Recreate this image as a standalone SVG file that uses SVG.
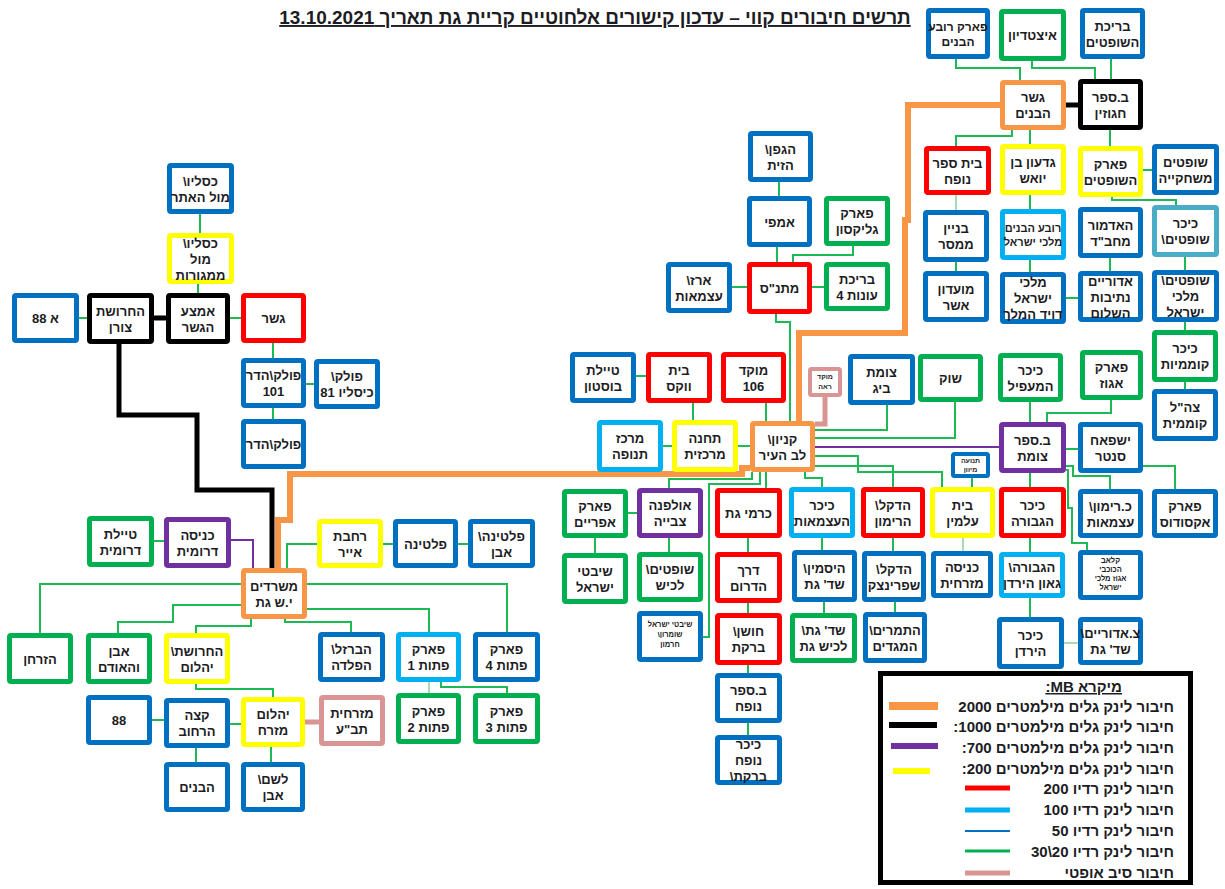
<svg xmlns="http://www.w3.org/2000/svg" width="1225" height="889" viewBox="0 0 1225 889">
<style>
text{font-family:"Liberation Sans","DejaVu Sans",sans-serif;font-weight:bold;font-size:13px;fill:#1c1c24;direction:rtl;text-anchor:middle}
.node rect{fill:#fff;stroke-width:5;rx:1.5px}
.thin rect{stroke-width:4}
.b rect{stroke:#0070c0}.g rect{stroke:#00b050}.r rect{stroke:#ff0000}.y rect{stroke:#ffff00}
.o rect{stroke:#f79646}.k rect{stroke:#000}.p rect{stroke:#7030a0}.lb rect{stroke:#00b0f0}
.t rect{stroke:#4bacc6}.pk rect{stroke:#d99594}
.s text{font-size:11px}.s12 text{font-size:12px}.xs text{font-size:7px}.x8 text{font-size:7.5px}
.conn polyline{fill:none;stroke-linejoin:miter}
.cg{stroke:#1db954;stroke-width:2}
.cgp{stroke:#a6dcb4;stroke-width:2}
.co{stroke:#f79646;stroke-width:6}
.ck{stroke:#000;stroke-width:5}
.cp{stroke:#7030a0;stroke-width:2}
.cpk{stroke:#d99594;stroke-width:5}
.title{font-size:19px;text-decoration:underline}
.lg{font-size:15px;text-anchor:start}
</style>

<text class="title" x="595" y="24">תרשים חיבורים קווי – עדכון קישורים אלחוטיים קריית גת תאריך 13.10.2021</text>

<g id="connectors" class="conn">
<polyline class="cg" points="200,214 200,233"/>
<polyline class="cg" points="198,284 198,293"/>
<polyline class="cg" points="79,318 87,318"/>
<polyline class="cg" points="230,318 241,318"/>
<polyline class="cg" points="273,343 273,358"/>
<polyline class="cg" points="306,384 314,384"/>
<polyline class="cg" points="273,408 273,419"/>
<polyline class="cg" points="154,541 164,541"/>
<polyline class="cg" points="317,544 287,544 287,568"/>
<polyline class="cg" points="383,544 393,544"/>
<polyline class="cg" points="458,544 468,544"/>
<polyline class="cg" points="307,584 507,584 507,632"/>
<polyline class="cg" points="307,609 429,609 429,632"/>
<polyline class="cg" points="285,619 285,622 351,622 351,632"/>
<polyline class="cg" points="251,619 251,626 196,626 196,633"/>
<polyline class="cg" points="241,584 40,584 40,633"/>
<polyline class="cg" points="241,605 173,605 173,622 118,622 118,633"/>
<polyline class="cg" points="196,684 196,689 273,689 273,697"/>
<polyline class="cg" points="241,724 230,724"/>
<polyline class="cg" points="164,720 152,720"/>
<polyline class="cg" points="196,748 196,762"/>
<polyline class="cg" points="271,747 271,762"/>
<polyline class="cgp" points="429,682 429,693"/>
<polyline class="cg" points="441,682 441,687 507,687 507,693"/>
<polyline class="cg" points="779,182 779,196"/>
<polyline class="cg" points="777,247 777,262"/>
<polyline class="cg" points="853,246 853,255 793,255 793,262"/>
<polyline class="cg" points="732,287 747,287"/>
<polyline class="cg" points="812,287 824,287"/>
<polyline class="cg" points="776,314 776,322 790,322 790,421"/>
<polyline class="cg" points="636,376 646,376"/>
<polyline class="cg" points="693,403 693,420"/>
<polyline class="cg" points="766,403 766,421"/>
<polyline class="cg" points="663,446 672,446"/>
<polyline class="cg" points="738,446 750,446"/>
<polyline class="cg" points="887,405 887,430 815,430"/>
<polyline class="cg" points="815,438 955,438 955,402"/>
<polyline class="cg" points="815,456 858,456 858,472 942,472 942,487"/>
<polyline class="cg" points="815,466 893,466 893,487"/>
<polyline class="cg" points="805,472 805,478 822,478 822,487"/>
<polyline class="cg" points="766,472 766,488"/>
<polyline class="cg" points="760,472 760,484 709,484 709,637 703,637"/>
<polyline class="cg" points="752,472 752,479 669,479 669,488"/>
<polyline class="cg" points="637,513 628,513"/>
<polyline class="cg" points="669,538 669,552"/>
<polyline class="cg" points="595,538 595,553"/>
<polyline class="cg" points="748,538 748,552"/>
<polyline class="cg" points="748,603 748,613"/>
<polyline class="cg" points="748,665 748,673"/>
<polyline class="cg" points="748,723 748,735"/>
<polyline class="cg" points="822,538 822,550"/>
<polyline class="cg" points="824,602 824,613"/>
<polyline class="cg" points="893,538 893,551"/>
<polyline class="cg" points="895,602 895,612"/>
<polyline class="cg" points="956,59 956,68 1020,68 1020,80"/>
<polyline class="cg" points="1032,61 1032,68 1095,68 1095,79"/>
<polyline class="cg" points="1111,59 1111,79"/>
<polyline class="cg" points="1012,130 1012,136 956,136 956,146"/>
<polyline class="cg" points="1030,130 1030,144"/>
<polyline class="cg" points="1110,130 1110,146"/>
<polyline class="cg" points="1143,170 1152,170"/>
<polyline class="cg" points="1112,197 1112,200 1176,200 1176,205"/>
<polyline class="cgp" points="956,195 956,210"/>
<polyline class="cg" points="956,262 956,271"/>
<polyline class="cg" points="1030,195 1030,209"/>
<polyline class="cg" points="1030,260 1030,272"/>
<polyline class="cg" points="1066,298 1078,298"/>
<polyline class="cg" points="1110,258 1110,271"/>
<polyline class="cg" points="1185,257 1185,270"/>
<polyline class="cg" points="1185,322 1185,330"/>
<polyline class="cg" points="1185,382 1185,389"/>
<polyline class="cg" points="1030,402 1030,422"/>
<polyline class="cg" points="1111,400 1111,413 1047,413 1047,422"/>
<polyline class="cg" points="1066,449 1078,449"/>
<polyline class="cg" points="1030,473 1030,487"/>
<polyline class="cg" points="1066,466 1073,466 1073,476 1110,476 1110,489"/>
<polyline class="cg" points="1066,470 1068,470 1068,508 1072,508 1072,543 1087,543 1087,550"/>
<polyline class="cg" points="1143,466 1175,466 1175,489"/>
<polyline class="cg" points="972,478 972,487"/>
<polyline class="cgp" points="963,538 963,551"/>
<polyline class="cg" points="1030,538 1030,552"/>
<polyline class="cg" points="1030,598 1030,617"/>
<polyline class="cgp" points="1064,643 1078,643"/>
<polyline class="co" points="1000,105 908,105 908,220 905,220 905,333 799,333 799,421"/>
<polyline class="co" points="750,468 742,468 742,474 290,474 290,520 278,520 278,568"/>
<polyline class="ck" points="1066,105 1078,105"/>
<polyline class="ck" points="154,318 166,318"/>
<polyline class="ck" points="119,344 119,415 197,415 197,490 272,490 272,568"/>
<polyline class="cp" points="815,447 999,447"/>
<polyline class="cp" points="231,540 253,540 253,568"/>
<polyline class="cpk" points="825,397 825,424 815,424"/>
<polyline class="cpk" points="305,722 319,722"/>
</g>

<g id="n-parkrova" class="node b s12"><rect x="928.5" y="10.5" width="59" height="46"/><text x="958" y="30.5">פארק רובע</text><text x="958" y="45.5">הבנים</text></g>
<g id="n-itztadion" class="node g"><rect x="1001.5" y="11.5" width="62" height="47"/><text x="1032.5" y="40">איצטדיון</text></g>
<g id="n-brichat-shoftim" class="node b"><rect x="1082.5" y="10.5" width="60" height="46"/><text x="1112.5" y="30.5">בריכת</text><text x="1112.5" y="46.5">השופטים</text></g>
<g id="n-gesher-habanim" class="node o"><rect x="1002.5" y="82.5" width="61" height="45"/><text x="1033" y="102">גשר</text><text x="1033" y="118">הבנים</text></g>
<g id="n-hagozin" class="node k"><rect x="1080.5" y="81.5" width="60" height="46"/><text x="1110.5" y="101.5">ב.ספר</text><text x="1110.5" y="117.5">חגוזין</text></g>
<g id="n-bs-nofach" class="node r"><rect x="926.5" y="148.5" width="62" height="44"/><text x="957.5" y="167.5">בית ספר</text><text x="957.5" y="183.5">נופח</text></g>
<g id="n-gidon" class="node y"><rect x="1002.5" y="146.5" width="61" height="46"/><text x="1033" y="166.5">גדעון בן</text><text x="1033" y="182.5">יואש</text></g>
<g id="n-park-shoftim" class="node y"><rect x="1080.5" y="148.5" width="60" height="46"/><text x="1110.5" y="168.5">פארק</text><text x="1110.5" y="184.5">השופטים</text></g>
<g id="n-shoftim-mis" class="node b"><rect x="1154.5" y="146.5" width="62" height="46"/><text x="1185.5" y="166.5">שופטים</text><text x="1185.5" y="182.5">משחקייה</text></g>
<g id="n-binyan" class="node b"><rect x="925.5" y="212.5" width="61" height="47"/><text x="956" y="233">בניין</text><text x="956" y="249">ממסר</text></g>
<g id="n-rova-malchei" class="node lb s"><rect x="1002.5" y="211.5" width="61" height="46"/><text x="1033" y="231.5">רובע הבנים</text><text x="1033" y="245.5">מלכי ישראל</text></g>
<g id="n-admor" class="node b"><rect x="1080.5" y="209.5" width="60" height="46"/><text x="1110.5" y="229.5">האדמור</text><text x="1110.5" y="245.5">מחב"ד</text></g>
<g id="n-kikar-shoftim" class="node t"><rect x="1154.5" y="207.5" width="62" height="47"/><text x="1185.5" y="228">כיכר</text><text x="1185.5" y="244">שופטים\</text></g>
<g id="n-moadon" class="node b"><rect x="925.5" y="273.5" width="61" height="46"/><text x="956" y="293.5">מועדון</text><text x="956" y="309.5">אשר</text></g>
<g id="n-malchei-david" class="node b"><rect x="1002.5" y="274.5" width="61" height="47"/><text x="1033" y="287">מלכי</text><text x="1033" y="303">ישראל</text><text x="1033" y="319">דויד המלך</text></g>
<g id="n-adorim" class="node b"><rect x="1080.5" y="273.5" width="60" height="46"/><text x="1110.5" y="285.5">אדוריים</text><text x="1110.5" y="301.5">נתיבות</text><text x="1110.5" y="317.5">השלום</text></g>
<g id="n-shoftim-malchei" class="node b"><rect x="1154.5" y="272.5" width="62" height="47"/><text x="1185.5" y="285">שופטים\</text><text x="1185.5" y="301">מלכי</text><text x="1185.5" y="317">ישראל</text></g>
<g id="n-komemiyut" class="node g"><rect x="1154.5" y="332.5" width="61" height="47"/><text x="1185" y="353">כיכר</text><text x="1185" y="369">קוממיות</text></g>
<g id="n-tzahal" class="node b"><rect x="1154.5" y="391.5" width="61" height="47"/><text x="1185" y="412">צה"ל</text><text x="1185" y="428">קוממית</text></g>
<g id="n-park-egoz" class="node g"><rect x="1082.5" y="352.5" width="58" height="45"/><text x="1111.5" y="372">פארק</text><text x="1111.5" y="388">אגוז</text></g>
<g id="n-maapil" class="node g"><rect x="1000.5" y="355.5" width="60" height="44"/><text x="1030.5" y="374.5">כיכר</text><text x="1030.5" y="390.5">המעפיל</text></g>
<g id="n-shuk" class="node g"><rect x="920.5" y="356.5" width="60" height="43"/><text x="950.5" y="383">שוק</text></g>
<g id="n-tzomet-big" class="node b"><rect x="850.5" y="356.5" width="62" height="46"/><text x="881.5" y="376.5">צומת</text><text x="881.5" y="392.5">ביג</text></g>
<g id="n-bs-tzomet" class="node p"><rect x="1001.5" y="424.5" width="62" height="46"/><text x="1032.5" y="444.5">ב.ספר</text><text x="1032.5" y="460.5">צומת</text></g>
<g id="n-yeshpaach" class="node b"><rect x="1080.5" y="424.5" width="60" height="46"/><text x="1110.5" y="444.5">ישפאח</text><text x="1110.5" y="460.5">סנטר</text></g>
<g id="n-tnua" class="node b thin xs"><rect x="953" y="454" width="35" height="22"/><text x="970.5" y="463">תנועה</text><text x="970.5" y="472">מיוון</text></g>
<g id="n-beit-almin" class="node y"><rect x="932.5" y="489.5" width="60" height="46"/><text x="962.5" y="509.5">בית</text><text x="962.5" y="525.5">עלמין</text></g>
<g id="n-kikar-gvura" class="node r"><rect x="1001.5" y="489.5" width="62" height="46"/><text x="1032.5" y="509.5">כיכר</text><text x="1032.5" y="525.5">הגבורה</text></g>
<g id="n-rimon" class="node b"><rect x="1080.5" y="491.5" width="60" height="44"/><text x="1110.5" y="510.5">כ.רימון\</text><text x="1110.5" y="526.5">עצמאות</text></g>
<g id="n-exodus" class="node b"><rect x="1154.5" y="491.5" width="61" height="44"/><text x="1185" y="510.5">פארק</text><text x="1185" y="526.5">אקסודוס</text></g>
<g id="n-knisa-mizrach" class="node b"><rect x="933.5" y="553.5" width="57" height="42"/><text x="962" y="571.5">כניסה</text><text x="962" y="587.5">מזרחית</text></g>
<g id="n-gaon" class="node lb"><rect x="1001.5" y="554.5" width="61" height="41"/><text x="1032" y="572">הגבורה\</text><text x="1032" y="588">גאון הירדן</text></g>
<g id="n-club" class="node b x8"><rect x="1080.5" y="552.5" width="60" height="45"/><text x="1110.5" y="563">קלאב</text><text x="1110.5" y="572">הכוכבי</text><text x="1110.5" y="581">אגוז מלכי</text><text x="1110.5" y="590">ישראל</text></g>
<g id="n-kikar-yarden" class="node b"><rect x="999.5" y="619.5" width="62" height="47"/><text x="1030.5" y="640">כיכר</text><text x="1030.5" y="656">הירדן</text></g>
<g id="n-tz-adorim" class="node b"><rect x="1080.5" y="619.5" width="60" height="43"/><text x="1110.5" y="638">צ.אדוריים\</text><text x="1110.5" y="654">שד' גת</text></g>

<g id="n-gefen" class="node b"><rect x="750.5" y="133.5" width="60" height="46"/><text x="780.5" y="153.5">הגפן\</text><text x="780.5" y="169.5">הזית</text></g>
<g id="n-amfi" class="node b"><rect x="749.5" y="198.5" width="60" height="46"/><text x="779.5" y="226.5">אמפי</text></g>
<g id="n-glickson" class="node g"><rect x="826.5" y="198.5" width="61" height="45"/><text x="857" y="218">פארק</text><text x="857" y="234">גליקסון</text></g>
<g id="n-erez" class="node b"><rect x="668.5" y="264.5" width="61" height="46"/><text x="699" y="284.5">ארז\</text><text x="699" y="300.5">עצמאות</text></g>
<g id="n-matnas" class="node r"><rect x="749.5" y="264.5" width="60" height="47"/><text x="779.5" y="293">מתנ"ס</text></g>
<g id="n-breicha4" class="node g"><rect x="826.5" y="264.5" width="61" height="44"/><text x="857" y="283.5">בריכת</text><text x="857" y="299.5">עונות 4</text></g>
<g id="n-boston" class="node b"><rect x="572.5" y="354.5" width="61" height="46"/><text x="603" y="374.5">טיילת</text><text x="603" y="390.5">בוסטון</text></g>
<g id="n-wax" class="node r"><rect x="648.5" y="354.5" width="61" height="46"/><text x="679" y="374.5">בית</text><text x="679" y="390.5">ווקס</text></g>
<g id="n-moked" class="node r"><rect x="723.5" y="354.5" width="60" height="46"/><text x="753.5" y="374.5">מוקד</text><text x="753.5" y="390.5">106</text></g>
<g id="n-moked-raa" class="node pk thin xs"><rect x="810" y="369" width="30" height="26"/><text x="825" y="379">מוקד</text><text x="825" y="389">ראה</text></g>
<g id="n-tnufa" class="node lb"><rect x="599.5" y="422.5" width="61" height="47"/><text x="630" y="443">מרכז</text><text x="630" y="459">תנופה</text></g>
<g id="n-tachana" class="node y"><rect x="674.5" y="422.5" width="61" height="47"/><text x="705" y="443">תחנה</text><text x="705" y="459">מרכזית</text></g>
<g id="n-kanyon" class="node o"><rect x="752.5" y="423.5" width="60" height="46"/><text x="782.5" y="443.5">קניון\</text><text x="782.5" y="459.5">לב העיר</text></g>
<g id="n-efraim" class="node g"><rect x="564.5" y="491.5" width="61" height="44"/><text x="595" y="510.5">פארק</text><text x="595" y="526.5">אפריים</text></g>
<g id="n-shivtei" class="node g"><rect x="564.5" y="555.5" width="61" height="46"/><text x="595" y="575.5">שיבטי</text><text x="595" y="591.5">ישראל</text></g>
<g id="n-ulpana" class="node p"><rect x="639.5" y="490.5" width="61" height="45"/><text x="670" y="510">אולפנה</text><text x="670" y="526">צבייה</text></g>
<g id="n-shoftim-lachish" class="node g"><rect x="639.5" y="554.5" width="61" height="45"/><text x="670" y="574">שופטים\</text><text x="670" y="590">לכיש</text></g>
<g id="n-shivtei-shomron" class="node b x8"><rect x="639.5" y="613.5" width="61" height="46"/><text x="670" y="627">שיבטי ישראל</text><text x="670" y="637">שומרון\</text><text x="670" y="647">חרמון</text></g>
<g id="n-karmei" class="node r"><rect x="717.5" y="490.5" width="62" height="45"/><text x="748.5" y="518">כרמי גת</text></g>
<g id="n-derech" class="node r"><rect x="717.5" y="554.5" width="62" height="46"/><text x="748.5" y="574.5">דרך</text><text x="748.5" y="590.5">הדרום</text></g>
<g id="n-choshen" class="node r"><rect x="717.5" y="615.5" width="62" height="47"/><text x="748.5" y="636">חושן\</text><text x="748.5" y="652">ברקת</text></g>
<g id="n-bs-nofach2" class="node b"><rect x="717.5" y="675.5" width="62" height="45"/><text x="748.5" y="695">ב.ספר</text><text x="748.5" y="711">נופח</text></g>
<g id="n-kikar-nofach" class="node b"><rect x="717.5" y="737.5" width="62" height="45"/><text x="748.5" y="749">כיכר</text><text x="748.5" y="765">נופח</text><text x="748.5" y="781">ברקת\</text></g>
<g id="n-atzmaut" class="node lb"><rect x="791.5" y="489.5" width="61" height="46"/><text x="822" y="509.5">כיכר</text><text x="822" y="525.5">העצמאות</text></g>
<g id="n-yasmin" class="node b"><rect x="794.5" y="552.5" width="60" height="47"/><text x="824.5" y="573">היסמין\</text><text x="824.5" y="589">שד' גת</text></g>
<g id="n-sderot-gat" class="node g"><rect x="792.5" y="615.5" width="62" height="45"/><text x="823.5" y="635">שד' גת\</text><text x="823.5" y="651">לכיש גת</text></g>
<g id="n-dekel-rimon" class="node r"><rect x="863.5" y="489.5" width="59" height="46"/><text x="893" y="509.5">הדקל\</text><text x="893" y="525.5">הרימון</text></g>
<g id="n-dekel-sprin" class="node b"><rect x="864.5" y="553.5" width="59" height="46"/><text x="894" y="573.5">הדקל\</text><text x="894" y="589.5">שפרינצק</text></g>
<g id="n-tmarim" class="node b"><rect x="865.5" y="614.5" width="59" height="46"/><text x="895" y="634.5">התמרים\</text><text x="895" y="650.5">המגדים</text></g>

<g id="n-kislev-atar" class="node b"><rect x="169.5" y="165.5" width="62" height="46"/><text x="200.5" y="185.5">כסליו\</text><text x="200.5" y="201.5">מול האתר</text></g>
<g id="n-kislev-mamg" class="node y"><rect x="169.5" y="235.5" width="62" height="46"/><text x="200.5" y="247.5">כסליו\</text><text x="200.5" y="263.5">מול</text><text x="200.5" y="279.5">ממגורות</text></g>
<g id="n-88a" class="node b"><rect x="14.5" y="295.5" width="62" height="45"/><text x="45.5" y="323">א 88</text></g>
<g id="n-tzoran" class="node k"><rect x="89.5" y="295.5" width="62" height="46"/><text x="120.5" y="315.5">החרושת</text><text x="120.5" y="331.5">צורן</text></g>
<g id="n-emtza" class="node k"><rect x="168.5" y="295.5" width="59" height="46"/><text x="198" y="315.5">אמצע</text><text x="198" y="331.5">הגשר</text></g>
<g id="n-gesher" class="node r"><rect x="243.5" y="295.5" width="60" height="45"/><text x="273.5" y="323">גשר</text></g>
<g id="n-folk101" class="node b"><rect x="243.5" y="360.5" width="60" height="45"/><text x="273.5" y="380">פולק\הדר</text><text x="273.5" y="396">101</text></g>
<g id="n-folk-kislev" class="node b"><rect x="316.5" y="361.5" width="61" height="45"/><text x="347" y="381">פולק\</text><text x="347" y="397">כיסליו 81</text></g>
<g id="n-folk-hadar" class="node b"><rect x="243.5" y="421.5" width="60" height="45"/><text x="273.5" y="449">פולק\הדר</text></g>
<g id="n-tayelet-darom" class="node g"><rect x="89.5" y="518.5" width="62" height="46"/><text x="120.5" y="538.5">טיילת</text><text x="120.5" y="554.5">דרומית</text></g>
<g id="n-knisa-darom" class="node p"><rect x="166.5" y="519.5" width="62" height="46"/><text x="197.5" y="539.5">כניסה</text><text x="197.5" y="555.5">דרומית</text></g>
<g id="n-misradim" class="node o"><rect x="243.5" y="570.5" width="61" height="46"/><text x="274" y="590.5">משרדים</text><text x="274" y="606.5">י.ש גת</text></g>
<g id="n-rachavat" class="node y"><rect x="319.5" y="521.5" width="61" height="44"/><text x="350" y="540.5">רחבת</text><text x="350" y="556.5">אייר</text></g>
<g id="n-platina" class="node b"><rect x="395.5" y="521.5" width="60" height="44"/><text x="425.5" y="548.5">פלטינה</text></g>
<g id="n-platina-even" class="node b"><rect x="470.5" y="521.5" width="62" height="44"/><text x="501.5" y="540.5">פלטינה\</text><text x="501.5" y="556.5">אבן</text></g>
<g id="n-zarchan" class="node g"><rect x="9.5" y="635.5" width="61" height="46"/><text x="40" y="663.5">הזרחן</text></g>
<g id="n-even-odem" class="node g"><rect x="88.5" y="635.5" width="61" height="46"/><text x="119" y="655.5">אבן</text><text x="119" y="671.5">והאודם</text></g>
<g id="n-charoshet-yahalom" class="node y"><rect x="166.5" y="635.5" width="61" height="46"/><text x="197" y="655.5">החרושת\</text><text x="197" y="671.5">יהלום</text></g>
<g id="n-barzel" class="node b"><rect x="320.5" y="634.5" width="62" height="45"/><text x="351.5" y="654">הברזל\</text><text x="351.5" y="670">הפלדה</text></g>
<g id="n-ptut1" class="node lb"><rect x="398.5" y="634.5" width="60" height="45"/><text x="428.5" y="654">פארק</text><text x="428.5" y="670">פתות 1</text></g>
<g id="n-ptut4" class="node b"><rect x="475.5" y="634.5" width="62" height="45"/><text x="506.5" y="654">פארק</text><text x="506.5" y="670">פתות 4</text></g>
<g id="n-ptut2" class="node g"><rect x="398.5" y="695.5" width="60" height="46"/><text x="428.5" y="715.5">פארק</text><text x="428.5" y="731.5">פתות 2</text></g>
<g id="n-ptut3" class="node g"><rect x="475.5" y="695.5" width="62" height="46"/><text x="506.5" y="715.5">פארק</text><text x="506.5" y="731.5">פתות 3</text></g>
<g id="n-mizrachit" class="node pk"><rect x="321.5" y="697.5" width="61" height="46"/><text x="352" y="717.5">מזרחית</text><text x="352" y="733.5">תב"ע</text></g>
<g id="n-yahalom-mizrach" class="node y"><rect x="243.5" y="699.5" width="59" height="45"/><text x="273" y="719">יהלום</text><text x="273" y="735">מזרח</text></g>
<g id="n-ktze" class="node b"><rect x="166.5" y="700.5" width="61" height="45"/><text x="197" y="720">קצה</text><text x="197" y="736">הרחוב</text></g>
<g id="n-88" class="node b"><rect x="88.5" y="697.5" width="61" height="45"/><text x="119" y="725">88</text></g>
<g id="n-habanim" class="node b"><rect x="166.5" y="764.5" width="61" height="45"/><text x="197" y="792">הבנים</text></g>
<g id="n-leshem" class="node b"><rect x="243.5" y="764.5" width="59" height="45"/><text x="273" y="784">לשם\</text><text x="273" y="800">אבן</text></g>

<g id="legend">
<rect x="880.5" y="673.5" width="310" height="209" fill="#fff" stroke="#000" stroke-width="5"/>
<text class="lg" x="1122" y="692" style="text-decoration:underline">מיקרא MB:</text>
<line x1="889" y1="706" x2="938" y2="706" stroke="#f79646" stroke-width="8"/>
<text class="lg" x="1174" y="712">חיבור לינק גלים מילמטרים 2000</text>
<line x1="889" y1="725" x2="937" y2="725" stroke="#000" stroke-width="6"/>
<text class="lg" x="1174" y="732">חיבור לינק גלים מילמטרים 1000:</text>
<line x1="891" y1="746" x2="938" y2="746" stroke="#7030a0" stroke-width="6"/>
<text class="lg" x="1174" y="753">חיבור לינק גלים מילמטרים 700:</text>
<line x1="893" y1="771" x2="930" y2="771" stroke="#ffff00" stroke-width="6"/>
<text class="lg" x="1174" y="774">חיבור לינק גלים מילמטרים 200:</text>
<line x1="965" y1="788" x2="1010" y2="788" stroke="#ff0000" stroke-width="5"/>
<text class="lg" x="1174" y="794">חיבור לינק רדיו 200</text>
<line x1="965" y1="810" x2="1010" y2="810" stroke="#00b0f0" stroke-width="5"/>
<text class="lg" x="1174" y="815">חיבור לינק רדיו 100</text>
<line x1="965" y1="831" x2="1010" y2="831" stroke="#0070c0" stroke-width="2"/>
<text class="lg" x="1174" y="836">חיבור לינק רדיו 50</text>
<line x1="965" y1="851" x2="1010" y2="851" stroke="#00b050" stroke-width="3"/>
<text class="lg" x="1174" y="857">חיבור לינק רדיו 20\30</text>
<line x1="965" y1="873" x2="1010" y2="873" stroke="#d99594" stroke-width="5"/>
<text class="lg" x="1174" y="878">חיבור סיב אופטי</text>
</g>
</svg>
